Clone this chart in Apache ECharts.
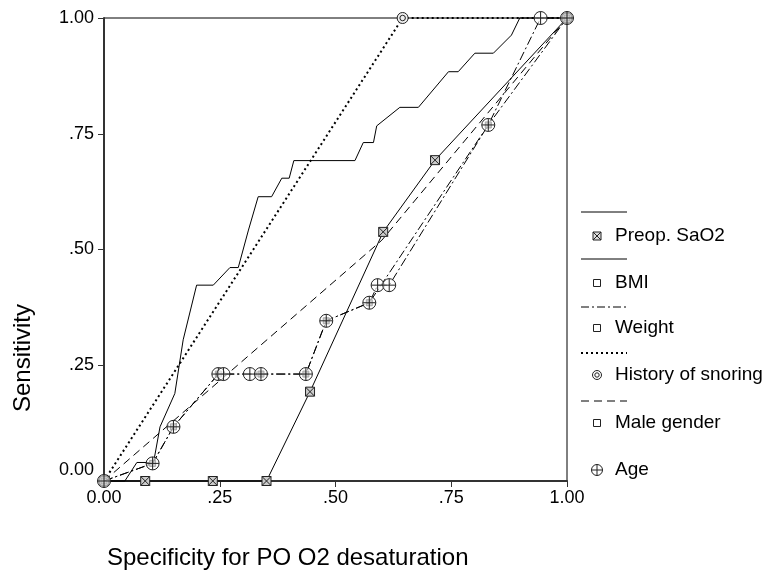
<!DOCTYPE html>
<html><head><meta charset="utf-8">
<script src="https://cdn.jsdelivr.net/npm/echarts@6/dist/echarts.min.js"></script>
<style>html,body{margin:0;padding:0;background:#fff}#c{width:768px;height:573px}</style>
</head><body><div id="c"></div>
<script>
// ---- data ----
const seriesNames = ['Preop. SaO2', 'BMI', 'Weight', 'History of snoring', 'Male gender', 'Age'];
const preopSaO2 = [[0,0],[0.089,0],[0.235,0],[0.351,0],[0.445,0.193],[0.603,0.538],[0.715,0.693],[1,1]];
const bmi = [[0,0],[0.045,0],[0.071,0.04],[0.107,0.04],[0.121,0.117],[0.153,0.189],[0.171,0.305],[0.2,0.423],
  [0.236,0.423],[0.272,0.461],[0.29,0.461],[0.312,0.542],[0.333,0.614],[0.362,0.614],[0.384,0.654],[0.4,0.654],
  [0.41,0.692],[0.542,0.692],[0.56,0.731],[0.582,0.731],[0.589,0.767],[0.639,0.807],[0.679,0.807],[0.744,0.884],
  [0.765,0.884],[0.801,0.924],[0.841,0.924],[0.88,0.963],[0.898,1],[1,1]];
const weight = [[0,0],[0.105,0.038],[0.15,0.117],[0.247,0.231],[0.339,0.231],[0.436,0.231],[0.48,0.346],[0.573,0.385],[0.83,0.769],[1,1]];
const snoring = [[0,0],[0.645,1],[1,1]];
const maleGender = [[0,0],[0.6,0.52],[1,1]];
const age = [[0,0],[0.105,0.038],[0.15,0.117],[0.247,0.231],[0.258,0.231],[0.315,0.231],[0.339,0.231],[0.436,0.231],
  [0.48,0.346],[0.573,0.385],[0.591,0.423],[0.616,0.423],[0.83,0.769],[0.943,1],[1,1]];
const axisTicks = ['0.00', '.25', '.50', '.75', '1.00'];
const xTitle = 'Specificity for PO O2 desaturation';
const yTitle = 'Sensitivity';

// ---- styling ----
const FONT = '"Liberation Sans", Arial, Helvetica, sans-serif';
const SYM = {
  boxX: 'path://M-5,-5L5,-5L5,5L-5,5Z M-5,-5L5,5 M5,-5L-5,5',
  square: 'path://M-5,-5L5,-5L5,5L-5,5Z',
  dcircle: 'path://M0,-6A6,6 0 1 1 0,6A6,6 0 1 1 0,-6Z M0,-3A3,3 0 1 1 0,3A3,3 0 1 1 0,-3Z',
  ocross: 'path://M0,-6A6,6 0 1 1 0,6A6,6 0 1 1 0,-6Z M-6,0L6,0 M0,-6L0,6'
};
const DASHDOT = [9, 3, 2, 3];
const DASH = [8, 5];
const DOT = [2, 3];

function lineSeries(name, data, lineType, lineWidth, symbol, symbolSize, fill, z) {
  return {
    name, type: 'line', data, z, clip: false, animation: false,
    symbol, symbolSize, showSymbol: symbol !== 'none',
    lineStyle: { color: '#000', width: lineWidth, type: lineType },
    itemStyle: { color: fill, borderColor: '#222', borderWidth: 1 },
    emphasis: { disabled: true }
  };
}

// ---- legend (drawn as graphic) ----
const LX0 = 581, LX1 = 627, MX = 597, TX = 615;
function legendLine(y, dash, w) {
  return { type: 'line', shape: { x1: LX0, y1: y, x2: LX1, y2: y },
    style: { stroke: '#000', lineWidth: w || 1, lineDash: dash || null } };
}
function legendText(y, text) {
  return { type: 'text', x: TX, y, style: { text, font: '19px ' + FONT, fill: '#000', textVerticalAlign: 'middle', textAlign: 'left' } };
}
function legendMarker(kind, cx, cy) {
  const st = { stroke: '#222', lineWidth: 1, fill: '#fff' };
  const out = [];
  if (kind === 'boxX') {
    out.push({ type: 'rect', shape: { x: cx - 4, y: cy - 4, width: 8, height: 8 }, style: Object.assign({}, st, { fill: '#ddd' }) });
    out.push({ type: 'line', shape: { x1: cx - 4, y1: cy - 4, x2: cx + 4, y2: cy + 4 }, style: st });
    out.push({ type: 'line', shape: { x1: cx + 4, y1: cy - 4, x2: cx - 4, y2: cy + 4 }, style: st });
  } else if (kind === 'square') {
    out.push({ type: 'rect', shape: { x: cx - 3.5, y: cy - 3.5, width: 7, height: 7 }, style: st });
  } else if (kind === 'dcircle') {
    out.push({ type: 'circle', shape: { cx, cy, r: 4.5 }, style: st });
    out.push({ type: 'circle', shape: { cx, cy, r: 2.2 }, style: st });
  } else if (kind === 'ocross') {
    out.push({ type: 'circle', shape: { cx, cy, r: 5.5 }, style: st });
    out.push({ type: 'line', shape: { x1: cx - 5.5, y1: cy, x2: cx + 5.5, y2: cy }, style: st });
    out.push({ type: 'line', shape: { x1: cx, y1: cy - 5.5, x2: cx, y2: cy + 5.5 }, style: st });
  }
  return out;
}
const legendItems = [
  { line: legendLine(212, null), marker: 'boxX', y: 236 },
  { line: legendLine(259, null), marker: 'square', y: 283 },
  { line: legendLine(307, [8, 3, 2, 3]), marker: 'square', y: 328 },
  { line: legendLine(353, DOT, 2), marker: 'dcircle', y: 375 },
  { line: legendLine(401, DASH), marker: 'square', y: 423 },
  { line: null, marker: 'ocross', y: 470 }
];
const graphics = [];
legendItems.forEach((it, i) => {
  if (it.line) graphics.push(it.line);
  legendMarker(it.marker, MX, it.y).forEach(g => graphics.push(g));
  graphics.push(legendText(it.y, seriesNames[i]));
});
graphics.push({ type: 'text', x: 107, y: 558, style: { text: xTitle, font: '24px ' + FONT, fill: '#000', textVerticalAlign: 'middle', textAlign: 'left' } });
graphics.push({ type: 'text', x: 23, y: 358, rotation: Math.PI / 2, style: { text: yTitle, font: '24px ' + FONT, fill: '#000', textVerticalAlign: 'middle', textAlign: 'center' } });

const tickLabel = v => axisTicks[Math.round(v / 0.25)];

const option = {
  backgroundColor: '#fff',
  animation: false,
  grid: { left: 104, right: 201, top: 18, bottom: 92, show: true, borderColor: '#000', borderWidth: 1, backgroundColor: 'transparent' },
  xAxis: {
    type: 'value', min: 0, max: 1, interval: 0.25,
    splitLine: { show: false },
    axisLine: { show: true, lineStyle: { color: '#333', width: 2 } },
    axisTick: { show: true, length: 6, lineStyle: { color: '#333', width: 1 } },
    axisLabel: { formatter: tickLabel, fontSize: 18, fontFamily: FONT, color: '#000', margin: 8 }
  },
  yAxis: {
    type: 'value', min: 0, max: 1, interval: 0.25,
    splitLine: { show: false },
    axisLine: { show: true, lineStyle: { color: '#333', width: 2 } },
    axisTick: { show: true, length: 6, lineStyle: { color: '#333', width: 1 } },
    axisLabel: {
      formatter: v => v === 0 ? '{z|0.00}' : tickLabel(v),
      fontSize: 18, fontFamily: FONT, color: '#000', margin: 10,
      rich: { z: { fontSize: 18, fontFamily: FONT, color: '#000', padding: [0, 0, 22, 0] } }
    }
  },
  graphic: graphics,
  series: [
    lineSeries(seriesNames[1], bmi, 'solid', 1, 'none', 0, '#fff', 2),
    lineSeries(seriesNames[4], maleGender, DASH, 1, 'none', 0, '#fff', 3),
    lineSeries(seriesNames[3], snoring, DOT, 2, SYM.dcircle, 11, '#eee', 4),
    lineSeries(seriesNames[0], preopSaO2, 'solid', 1, SYM.boxX, 9, '#ccc', 5),
    lineSeries(seriesNames[2], weight, DASHDOT, 1, SYM.square, 6, '#888', 6),
    lineSeries(seriesNames[5], age, DASHDOT, 1, SYM.ocross, 13, 'rgba(255,255,255,0.6)', 7)
  ]
};
const chart = echarts.init(document.getElementById('c'), null, { renderer: 'canvas' });
chart.setOption(option);
</script>
</body></html>
